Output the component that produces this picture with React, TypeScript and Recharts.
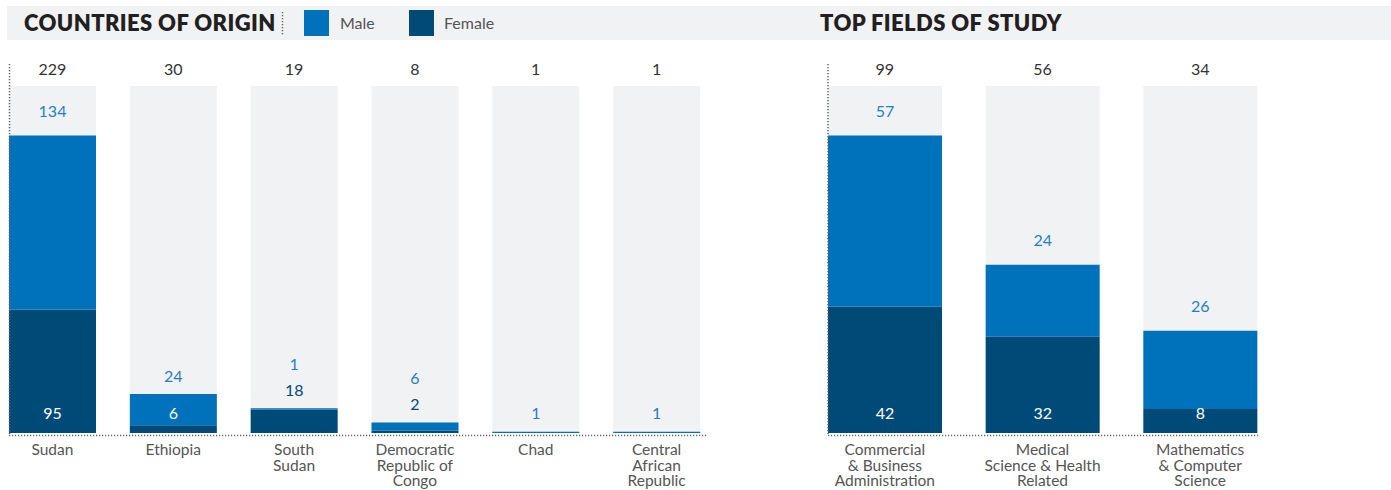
import React from 'react';
import { BarChart, Bar, XAxis, YAxis, LabelList } from 'recharts';

const countryNames = ['Sudan', 'Ethiopia', 'South Sudan', 'Democratic Republic of Congo', 'Chad', 'Central African Republic'];
const countryTickLines = [['Sudan'], ['Ethiopia'], ['South', 'Sudan'], ['Democratic', 'Republic of', 'Congo'], ['Chad'], ['Central', 'African', 'Republic']];
const countryMale = [134, 24, 1, 6, 1, 1];
const countryFemale = [95, 6, 18, 2, 0, 0];

const fieldNames = ['Commercial & Business Administration', 'Medical Science & Health Related', 'Mathematics & Computer Science'];
const fieldTickLines = [['Commercial', '& Business', 'Administration'], ['Medical', 'Science & Health', 'Related'], ['Mathematics', '& Computer', 'Science']];
const fieldMale = [57, 24, 26];
const fieldFemale = [42, 32, 8];

const MALE = '#0071bb';
const FEMALE = '#004a78';
const BG = '#f1f2f4';
const MALE_LABEL = '#1f80c6';
const FONT = 'Lato, "Open Sans", sans-serif';

type Row = { name: string; male: number; female: number; total: number; lines: string[] };

function build(names: string[], lines: string[][], male: number[], female: number[]): Row[] {
  return names.map((n, i) => ({ name: n, male: male[i], female: female[i], total: male[i] + female[i], lines: lines[i] }));
}

const countryData = build(countryNames, countryTickLines, countryMale, countryFemale);
const fieldData = build(fieldNames, fieldTickLines, fieldMale, fieldFemale);

function getBox(p: any) {
  const vb = p.viewBox || {};
  return {
    x: p.x ?? vb.x,
    y: p.y ?? vb.y,
    width: p.width ?? vb.width,
    height: p.height ?? vb.height,
  };
}

function Panel({ data, left, width }: { data: Row[]; left: number; width: number }) {
  const maxTotal = Math.max(...data.map((d) => d.total));
  const ymax = (maxTotal * 7) / 6;
  const isSmall = (d: Row) => d.total / ymax < 0.1;
  const isTiny = (d: Row) => d.total / ymax < 0.15;

  const femaleLabel = (p: any) => {
    const d = data[p.index];
    if (!d || d.female <= 0) return null;
    const b = getBox(p);
    const base = b.y + b.height;
    const cx = b.x + b.width / 2;
    if (!isSmall(d)) {
      return (
        <text x={cx} y={base - 21} textAnchor="middle" dominantBaseline="central" fill="#ffffff" fontSize={16} fontFamily={FONT}>
          {d.female}
        </text>
      );
    }
    const stackTop = b.y - (b.height * d.male) / d.female;
    return (
      <text x={cx} y={stackTop - 19} textAnchor="middle" dominantBaseline="central" fill={FEMALE} fontSize={16} fontFamily={FONT}>
        {d.female}
      </text>
    );
  };

  const maleLabel = (p: any) => {
    const d = data[p.index];
    if (!d || d.male <= 0) return null;
    const b = getBox(p);
    const cx = b.x + b.width / 2;
    let y: number;
    if (isSmall(d) && d.female > 0) y = b.y - 45;
    else if (isTiny(d)) y = b.y - 19;
    else y = b.y - 25;
    return (
      <text x={cx} y={y} textAnchor="middle" dominantBaseline="central" fill={MALE_LABEL} fontSize={16} fontFamily={FONT}>
        {d.male}
      </text>
    );
  };

  const bottomTick = (p: any) => {
    const d = data[p.index];
    if (!d) return null;
    return (
      <g>
        {d.lines.map((ln, i) => (
          <text key={i} x={p.x} y={p.y + i * 15.5} textAnchor="middle" dominantBaseline="central" fill="#555555" fontSize={15.5} fontFamily={FONT}>
            {ln}
          </text>
        ))}
      </g>
    );
  };

  const topTick = (p: any) => {
    const d = data[p.index];
    if (!d) return null;
    return (
      <text x={p.x} y={p.y} textAnchor="middle" dominantBaseline="central" fill="#333333" fontSize={16} fontFamily={FONT}>
        {d.total}
      </text>
    );
  };

  const barSize = Math.round((width / data.length) * 0.72);

  return (
    <div style={{ position: 'absolute', left, top: 0 }}>
      <BarChart width={width} height={490} data={data} margin={{ top: 0, right: 0, bottom: 0, left: 0 }} barSize={barSize}>
        <XAxis xAxisId="top" dataKey="name" orientation="top" height={86} axisLine={false} tickLine={false} tickSize={0} tickMargin={18} interval={0} tick={topTick} />
        <XAxis dataKey="name" height={57} axisLine={false} tickLine={false} tickSize={0} tickMargin={16} interval={0} tick={bottomTick} />
        <YAxis hide domain={[0, ymax]} />
        <Bar xAxisId="top" dataKey="total" fill="transparent" background={{ fill: BG }} isAnimationActive={false} />
        <Bar dataKey="female" stackId="s" fill={FEMALE} isAnimationActive={false}>
          <LabelList dataKey="female" content={femaleLabel} />
        </Bar>
        <Bar dataKey="male" stackId="s" fill={MALE} isAnimationActive={false}>
          <LabelList dataKey="male" content={maleLabel} />
        </Bar>
      </BarChart>
    </div>
  );
}

function Header() {
  const title = { position: 'absolute' as const, top: 6, height: 34, lineHeight: '34px', fontFamily: FONT, fontWeight: 800, fontSize: 22, letterSpacing: 0.4, color: '#231f20' };
  const leg = { position: 'absolute' as const, top: 6, height: 34, lineHeight: '34px', fontFamily: FONT, fontSize: 16, color: '#555555' };
  return (
    <>
      <div style={{ position: 'absolute', left: 7, top: 6, width: 1384, height: 34, background: BG }} />
      <div style={{ ...title, left: 24 }}>COUNTRIES OF ORIGIN</div>
      <div style={{ position: 'absolute', left: 304, top: 10, width: 25, height: 26, background: MALE }} />
      <div style={{ ...leg, left: 340 }}>Male</div>
      <div style={{ position: 'absolute', left: 409, top: 10, width: 25, height: 26, background: FEMALE }} />
      <div style={{ ...leg, left: 444 }}>Female</div>
      <div style={{ ...title, left: 820 }}>TOP FIELDS OF STUDY</div>
    </>
  );
}

function Decorations() {
  const dot = { stroke: '#666666', strokeWidth: 1.5, strokeDasharray: '1.2 1.8' };
  return (
    <svg width={1391} height={490} style={{ position: 'absolute', left: 0, top: 0, pointerEvents: 'none' }}>
      <line x1={282.5} y1={12} x2={282.5} y2={36} {...dot} />
      <line x1={9.5} y1={64} x2={9.5} y2={434} {...dot} />
      <line x1={828} y1={64} x2={828} y2={434} {...dot} />
      <line x1={9} y1={435.5} x2={707} y2={435.5} {...dot} />
      <line x1={828} y1={435.5} x2={1259} y2={435.5} {...dot} />
    </svg>
  );
}

export default function App() {
  return (
    <div style={{ position: 'fixed', left: 0, top: 0, width: 1391, height: 490, background: '#ffffff', overflow: 'hidden' }}>
      <Header />
      <Panel data={countryData} left={-8} width={725} />
      <Panel data={fieldData} left={805.5} width={473} />
      <Decorations />
    </div>
  );
}
